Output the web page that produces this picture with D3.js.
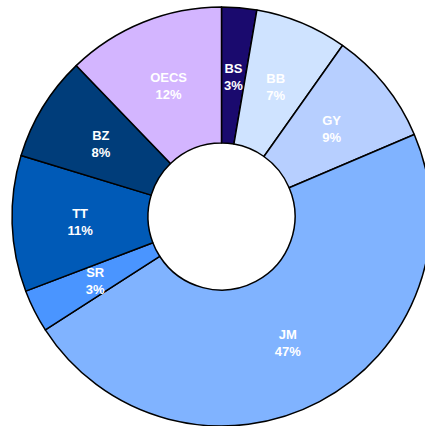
<!DOCTYPE html>
<html>
<head>
<meta charset="utf-8">
<script src="https://cdn.jsdelivr.net/npm/d3@7"></script>
<style>
  body { margin: 0; background: #fff; }
  svg { display: block; }
</style>
</head>
<body>
<svg id="chart" width="425" height="426"></svg>
<script>
// slice order: clockwise from 12 o'clock
const categories = ["BS", "BB", "GY", "JM", "SR", "TT", "BZ", "OECS"];
const shares = [2.7, 7.1, 8.8, 47.3, 3.3, 10.5, 8.1, 12.2];
const shareLabels = ["3%", "7%", "9%", "47%", "3%", "11%", "8%", "12%"];
const colors = ["#1a0a6e", "#cfe3ff", "#b7cfff", "#80b3ff", "#4a95ff", "#005ab7", "#003d7a", "#d3b5ff"];

const svg = d3.select("#chart");
const cx = 221.5, cy = 216.5;
const outerR = 209.5, innerR = 73.5;

const data = categories.map((c, i) => ({ name: c, value: shares[i], label: shareLabels[i], color: colors[i] }));

const pie = d3.pie()
    .value(d => d.value)
    .sort(null);

const arc = d3.arc()
    .innerRadius(innerR)
    .outerRadius(outerR);

const g = svg.append("g")
    .attr("transform", `translate(${cx},${cy})`);

const arcs = pie(data);

g.selectAll("path")
    .data(arcs)
    .enter().append("path")
    .attr("d", arc)
    .style("fill", d => d.data.color)
    .style("stroke", "#000")
    .style("stroke-width", "1.5px")
    .style("stroke-linejoin", "round");

// labels at the slice centroid, name over percent
const label = g.selectAll("text")
    .data(arcs)
    .enter().append("text")
    .attr("transform", d => `translate(${arc.centroid(d)})`)
    .attr("text-anchor", "middle")
    .style("font-family", "'Liberation Sans', Arial, sans-serif")
    .style("font-size", "13px")
    .style("font-weight", "bold")
    .style("fill", "#fff");

label.append("tspan")
    .attr("x", 0)
    .attr("y", -3)
    .text(d => d.data.name);

label.append("tspan")
    .attr("x", 0)
    .attr("y", 14)
    .text(d => d.data.label);
</script>
</body>
</html>
